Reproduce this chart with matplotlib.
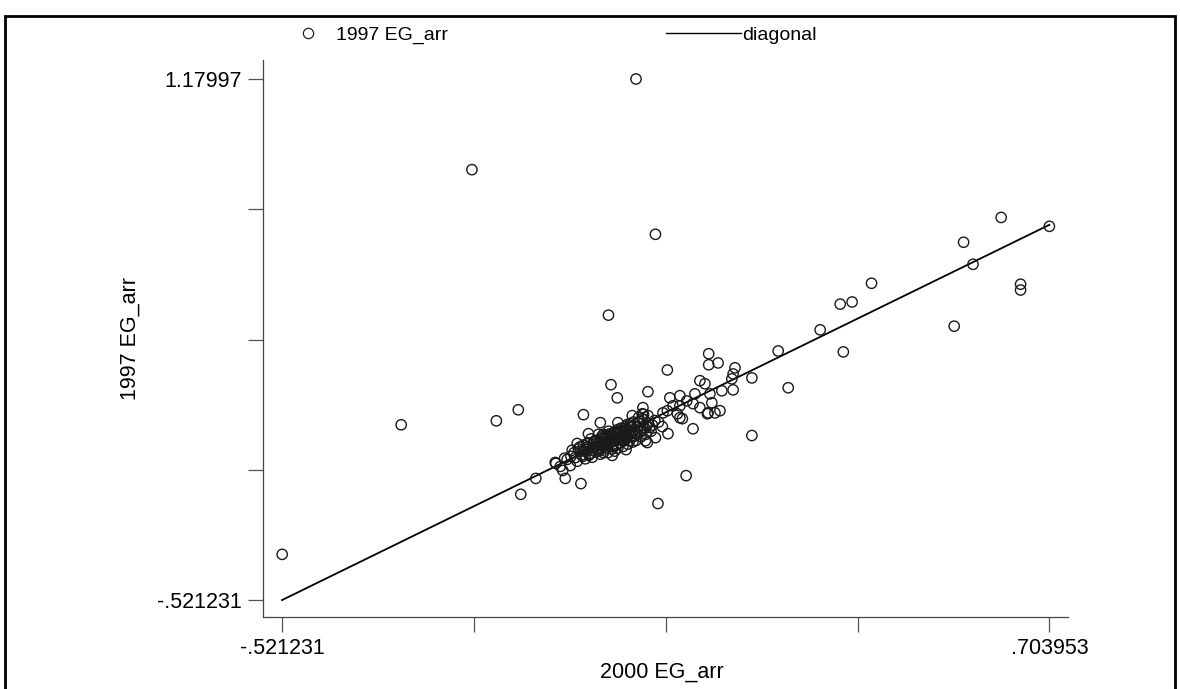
import numpy as np
import matplotlib
matplotlib.use('Agg')
import matplotlib.pyplot as plt
from matplotlib.lines import Line2D
from matplotlib.patches import Rectangle

plt.rcParams['font.family'] = ['Liberation Sans', 'DejaVu Sans']

# ---------------------------------------------------------------
# data
# ---------------------------------------------------------------
x_min, x_max = -0.521231, 0.703953
y_min, y_max = -0.521231, 1.17997

# scattered points
eg2000_outer = [-0.521, -0.331, -0.218, -0.179, -0.144, 0.044, 0.075, 0.000, 0.004, 0.014,
                0.063, 0.124, 0.079, -0.044, -0.140, -0.116, -0.069, -0.073, -0.084, -0.077,
                -0.061, -0.040, -0.032, -0.050, -0.013, 0.015, 0.038, 0.055, 0.063, 0.006,
                0.062, 0.075, -0.053, 0.160, 0.175, 0.160, 0.094, 0.202, 0.199, 0.197,
                0.146, 0.154, 0.181, 0.199, 0.138, 0.162, 0.098, 0.114, 0.103, 0.165,
                0.146, 0.159, 0.170, 0.178, 0.087, 0.110, 0.118, 0.135, 0.095, 0.059,
                0.054, 0.271, 0.229, 0.287, 0.229, 0.627, 0.703953, 0.567, 0.582, 0.658,
                0.658, 0.420, 0.370, 0.389, 0.552, 0.338, 0.375, 0.125, 0.135, 0.114,
                0.094, 0.114, 0.158, -0.085]
eg1997_outer = [-0.372, 0.051, 0.884, 0.064, 0.100, 1.17997, 0.673, 0.409, 0.182, 0.139,
                0.159, -0.115, -0.206, -0.141, -0.176, -0.124, -0.124, -0.098, -0.075, -0.085,
                -0.082, 0.084, 0.022, -0.010, 0.058, 0.058, 0.081, 0.107, 0.081, -0.049,
                -0.007, 0.009, -0.056, 0.283, 0.253, 0.247, 0.230, 0.237, 0.217, 0.201,
                0.195, 0.185, 0.162, 0.165, 0.152, 0.152, 0.139, 0.146, 0.113, 0.123,
                0.107, 0.090, 0.090, 0.097, 0.090, 0.087, 0.071, 0.038, 0.022, -0.001,
                0.087, 0.292, 0.204, 0.172, 0.016, 0.728, 0.699, 0.647, 0.575, 0.510,
                0.491, 0.513, 0.445, 0.452, 0.373, 0.361, 0.289, 0.129, 0.120, 0.113,
                0.097, 0.074, 0.087, -0.072]

# dense core around the origin
eg2000_core = [-0.055, -0.050, -0.046, -0.043, -0.040, -0.037, -0.035, -0.032, -0.030, -0.028,
               -0.026, -0.024, -0.022, -0.020, -0.018, -0.016, -0.014, -0.012, -0.010, -0.008,
               -0.006, -0.004, -0.002, 0.000, 0.002, 0.004, 0.006, 0.008, 0.010, 0.012,
               0.014, 0.016, 0.018, 0.020, 0.022, 0.024, 0.026, 0.028, 0.030, 0.032,
               0.034, 0.036, 0.038, 0.040, 0.043, 0.046, 0.050, 0.054, 0.058, 0.063,
               0.068, 0.074, -0.045, -0.038, -0.033, -0.027, -0.021, -0.015, -0.011, -0.007,
               -0.003, 0.001, 0.005, 0.009, 0.013, 0.017, 0.021, 0.025, 0.029, 0.033,
               0.037, 0.041, -0.019, -0.009, 0.003, 0.011, 0.019, 0.027, 0.035, -0.013,
               -0.001, 0.015, 0.023, 0.031, 0.044, 0.052, 0.060, -0.060, -0.066, 0.048,
               0.056, 0.039,
               -0.048, -0.041, -0.034, -0.029, -0.023, -0.017, -0.012, -0.005, 0.000, 0.007,
               0.012, 0.018, 0.024, 0.030, 0.036, 0.042, 0.047, 0.053, 0.061, 0.070,
               -0.036, -0.025, -0.015, -0.004, 0.006, 0.016, 0.026, 0.034, 0.045, 0.057,
               -0.058, -0.031, -0.008, 0.010, 0.028, 0.050, 0.066, 0.080, 0.086, -0.070]
eg1997_core = [-0.040, -0.068, -0.022, -0.048, -0.015, -0.060, -0.030, -0.008, -0.045, 0.005,
               -0.055, -0.025, -0.002, -0.038, -0.012, 0.020, -0.030, -0.005, 0.015, -0.040,
               -0.018, 0.008, -0.025, 0.030, -0.010, 0.012, -0.028, 0.025, 0.002, -0.015,
               0.035, 0.010, -0.008, 0.040, 0.018, -0.002, 0.030, 0.008, 0.052, 0.020,
               0.000, 0.042, 0.025, 0.060, 0.015, 0.045, 0.030, 0.070, 0.040, 0.055,
               0.030, 0.065, -0.035, -0.035, -0.020, -0.032, -0.020, -0.022, -0.015, -0.005,
               -0.012, 0.005, -0.002, 0.012, 0.005, 0.022, 0.008, 0.015, 0.035, 0.030,
               0.012, 0.035, 0.000, 0.005, 0.022, 0.028, 0.030, 0.045, 0.055, -0.045,
               -0.040, -0.025, -0.020, -0.012, 0.000, 0.012, 0.020, -0.052, -0.062, 0.075,
               0.085, -0.005,
               -0.028, -0.052, -0.010, -0.042, -0.005, -0.028, 0.008, -0.018, 0.015, -0.012,
               0.022, 0.002, 0.038, 0.012, 0.048, 0.022, 0.058, 0.035, 0.048, 0.050,
               -0.025, -0.012, -0.035, 0.018, -0.020, 0.030, 0.000, 0.048, 0.022, 0.068,
               -0.032, -0.048, 0.020, -0.035, -0.030, 0.062, 0.042, 0.060, 0.045, -0.058]

eg2000 = np.array(eg2000_outer + eg2000_core)
eg1997 = np.array(eg1997_outer + eg1997_core)
diag = np.array([x_min, x_max])

# ---------------------------------------------------------------
# figure
# ---------------------------------------------------------------
fig = plt.figure(figsize=(11.8, 6.89), dpi=100)
fig.patch.set_facecolor('white')
ax = fig.add_axes([263 / 1180, 72 / 689, 805 / 1180, 557 / 689])

ax.scatter(eg2000, eg1997, s=55, facecolors='none', edgecolors='#1a1a1a',
           linewidths=1.0, zorder=3)
ax.plot(diag, diag, color='black', linewidth=1.3, zorder=2)

# ejes estilo Stata
ax.set_xlim(-0.5516, 0.7337)
ax.set_ylim(-0.5765, 1.2420)
xt = np.linspace(x_min, x_max, 5)
yt = np.linspace(y_min, y_max, 5)
ax.set_xticks(xt)
ax.set_xticklabels(['-.521231', '', '', '', '.703953'])
ax.set_yticks(yt)
ax.set_yticklabels(['-.521231', '', '', '', '1.17997'])
ax.tick_params(direction='out', length=11, width=0.9, color='#555555',
               labelsize=15.5, pad=4)
ax.spines[['top', 'right']].set_visible(False)
ax.spines[['bottom', 'left']].set_color('#444444')
ax.spines[['bottom', 'left']].set_linewidth(0.9)

ax.set_xlabel('2000 EG_arr', fontsize=15.5)
ax.set_ylabel('1997 EG_arr', fontsize=15.5)
ax.xaxis.set_label_coords(0.495, -0.08)
ax.yaxis.set_label_coords(-0.152, 0.5)

# leyenda en la parte superior
h1 = Line2D([], [], marker='o', linestyle='none', markersize=7.4,
            markerfacecolor='none', markeredgecolor='#222222', markeredgewidth=0.9)
h2 = Line2D([], [], color='black', linewidth=1.0)
leg1 = fig.legend([h1], ['1997 EG_arr'], loc='center left',
                  bbox_to_anchor=(299 / 1180, 0.949), frameon=False, fontsize=14,
                  handlelength=0.9, handletextpad=1.0, borderpad=0, borderaxespad=0)
leg2 = fig.legend([h2], ['diagonal'], loc='center left',
                  bbox_to_anchor=(666 / 1180, 0.949), frameon=False, fontsize=14,
                  handlelength=3.85, handletextpad=0.05, borderpad=0, borderaxespad=0)

# marco exterior
fig.patches.append(Rectangle((5 / 1180, -0.02), 1170 / 1180, (689 - 16) / 689 + 0.02,
                             transform=fig.transFigure, fill=False,
                             edgecolor='black', linewidth=2))

fig.savefig('out.png', dpi=100, facecolor='white')
plt.close(fig)
